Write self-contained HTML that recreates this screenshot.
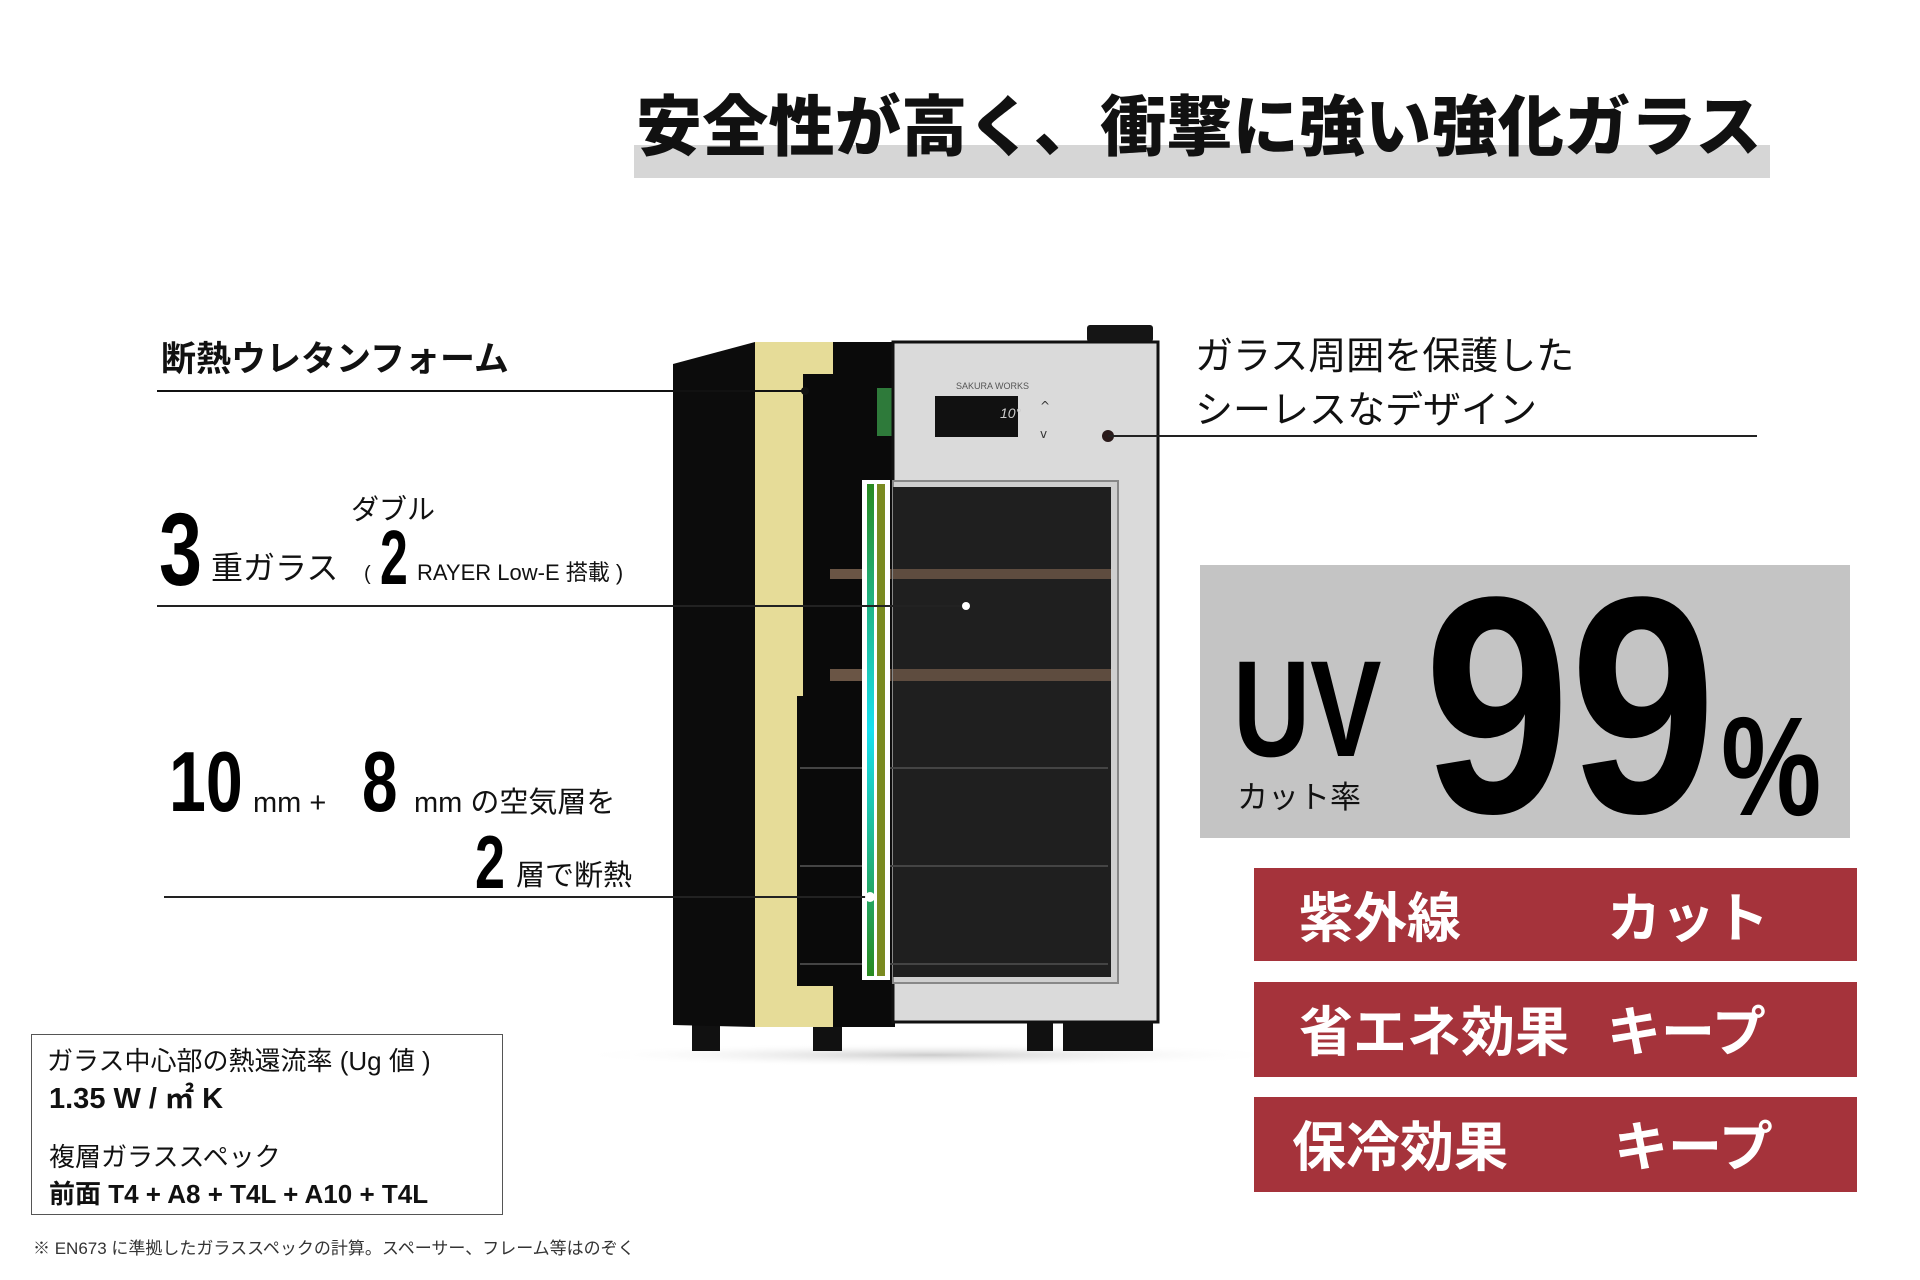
<!DOCTYPE html>
<html><head><meta charset="utf-8"><style>
body{margin:0;width:1920px;height:1280px;background:#fff;position:relative;overflow:hidden;font-family:"Liberation Sans","Noto Sans CJK JP",sans-serif;color:#111}
.a{position:absolute;white-space:nowrap;line-height:1}
.n{font-family:"Liberation Sans",sans-serif;font-weight:bold;transform-origin:0 0;color:#000}
.j{font-family:"Liberation Sans","Noto Sans CJK JP",sans-serif}
.red{position:absolute;left:1254px;width:603px;background:#a5333b;color:#fff;font-family:"Noto Sans CJK JP",sans-serif;font-weight:bold;font-size:54px}
.red span{position:absolute;top:14px;line-height:1.2}
</style></head><body>
<div class="a" style="left:634px;top:145px;width:1136px;height:33px;background:#d6d6d6"></div>
<div class="a j" style="left:636px;top:94px;font-size:66px;font-weight:900;letter-spacing:0.3px">安全性が高く、衝撃に強い強化ガラス</div>

<svg class="a" style="left:0;top:0" width="1920" height="1280">
<defs><linearGradient id="g" x1="0" y1="0" x2="0" y2="1"><stop offset="0" stop-color="#2a8a20"/><stop offset="0.5" stop-color="#18e0f0"/><stop offset="1" stop-color="#2a8a20"/></linearGradient>
<radialGradient id="sh"><stop offset="0" stop-color="#ccc"/><stop offset="1" stop-color="#fff" stop-opacity="0"/></radialGradient></defs>
<ellipse cx="930" cy="1055" rx="360" ry="12" fill="url(#sh)"/>
<rect x="692" y="1020" width="28" height="31" fill="#111"/><rect x="813" y="1020" width="29" height="31" fill="#111"/>
<rect x="1027" y="1020" width="26" height="31" fill="#111"/><rect x="1063" y="1020" width="90" height="31" fill="#111"/>
<polygon points="673,364 755,342 755,1027 673,1025" fill="#0c0c0c"/>
<rect x="755" y="342" width="140" height="685" fill="#0a0a0a"/>
<path d="M755,342 H833 V374 H803 V696 H797 V986 H833 V1027 H755 Z" fill="#e6dc98"/>
<rect x="830" y="569" width="265" height="10" fill="#6a5545"/>
<rect x="830" y="669" width="265" height="12" fill="#6a5545"/>
<rect x="877" y="388" width="20" height="48" fill="#2e7a3a"/>
<rect x="1087" y="325" width="66" height="17" rx="3" fill="#151515"/>
<rect x="893" y="342" width="265" height="680" fill="#dadada" stroke="#111" stroke-width="3"/>
<rect x="893" y="481" width="225" height="502" fill="#cfcfcf" stroke="#888" stroke-width="2"/>
<rect x="893" y="487" width="218" height="490" fill="#1f1f1f"/>
<rect x="893" y="569" width="218" height="10" fill="#6a5545" opacity="0.85"/>
<rect x="893" y="669" width="218" height="12" fill="#6a5545" opacity="0.85"/>
<line x1="800" y1="768" x2="1108" y2="768" stroke="#444" stroke-width="2"/>
<line x1="800" y1="866" x2="1108" y2="866" stroke="#444" stroke-width="2"/>
<line x1="800" y1="964" x2="1108" y2="964" stroke="#444" stroke-width="2"/>
<rect x="935" y="396" width="83" height="41" fill="#111"/>
<text x="1000" y="418" fill="#ccc" font-size="14" font-style="italic" font-family="Liberation Sans">10°</text>
<text x="956" y="389" fill="#555" font-size="9" font-family="Liberation Sans">SAKURA WORKS</text>
<text x="1040" y="410" fill="#333" font-size="12" font-family="DejaVu Sans">^</text>
<text x="1040" y="438" fill="#333" font-size="12" font-family="DejaVu Sans">v</text>
<circle cx="1108" cy="436" r="6" fill="#2a1a1a"/>
<rect x="862" y="480" width="28" height="500" fill="#fff"/>
<rect x="867" y="484" width="7" height="492" fill="url(#g)"/>
<rect x="877" y="484" width="8" height="492" fill="#7a8a20"/>
<line x1="157" y1="391" x2="805" y2="391" stroke="#111" stroke-width="2"/><circle cx="805" cy="391" r="4" fill="#111"/>
<line x1="157" y1="606" x2="966" y2="606" stroke="#222" stroke-width="2"/><circle cx="966" cy="606" r="4" fill="#fff"/>
<line x1="164" y1="897" x2="870" y2="897" stroke="#222" stroke-width="2"/><circle cx="870" cy="897" r="5" fill="#fff"/>
<line x1="1108" y1="436" x2="1757" y2="436" stroke="#222" stroke-width="2"/>
</svg>

<div class="a j" style="left:161px;top:342px;font-size:35px;font-weight:bold">断熱ウレタンフォーム</div>
<div class="a n" style="left:159px;top:498px;font-size:103px;transform:scaleX(0.75)">3</div>
<div class="a j" style="left:211px;top:552px;font-size:32px">重ガラス</div>
<div class="a j" style="left:351px;top:496px;font-size:28px">ダブル</div>
<div class="a j" style="left:364px;top:564px;font-size:20px">(</div>
<div class="a n" style="left:380px;top:520px;font-size:77px;transform:scaleX(0.65)">2</div>
<div class="a j" style="left:417px;top:562px;font-size:22px">RAYER Low-E 搭載 )</div>
<div class="a n" style="left:169px;top:740px;font-size:85px;transform:scaleX(0.78)">10</div>
<div class="a j" style="left:253px;top:789px;font-size:29px">mm +</div>
<div class="a n" style="left:362px;top:740px;font-size:85px;transform:scaleX(0.75)">8</div>
<div class="a j" style="left:414px;top:789px;font-size:29px">mm の空気層を</div>
<div class="a n" style="left:475px;top:825px;font-size:75px;transform:scaleX(0.72)">2</div>
<div class="a j" style="left:516px;top:862px;font-size:29px">層で断熱</div>

<div class="a j" style="left:1195px;top:330px;font-size:38px;line-height:54px">ガラス周囲を保護した<br>シーレスなデザイン</div>

<div class="a" style="left:1200px;top:565px;width:650px;height:273px;background:#c4c4c4"></div>
<div class="a n" style="left:1233px;top:641px;font-size:137px;transform:scaleX(0.78)">UV</div>
<div class="a j" style="left:1237px;top:782px;font-size:31px">カット率</div>
<div class="a n" style="left:1424px;top:551px;font-size:309px;transform:scaleX(0.85)">99</div>
<div class="a n" style="left:1721px;top:696px;font-size:141px;transform:scaleX(0.8)">%</div>

<div class="red" style="top:868px;height:93px"><span style="left:45px">紫外線</span><span style="left:353px">カット</span></div>
<div class="red" style="top:982px;height:95px"><span style="left:45px">省エネ効果</span><span style="left:353px">キープ</span></div>
<div class="red" style="top:1097px;height:95px"><span style="left:38px">保冷効果</span><span style="left:360px">キープ</span></div>

<div class="a" style="left:31px;top:1034px;width:470px;height:179px;border:1.5px solid #555"></div>
<div class="a j" style="left:47px;top:1048px;font-size:26px">ガラス中心部の熱還流率 (Ug 値 )</div>
<div class="a j" style="left:49px;top:1085px;font-size:29px;font-weight:bold">1.35 W / ㎡ K</div>
<div class="a j" style="left:49px;top:1144px;font-size:26px">複層ガラススペック</div>
<div class="a j" style="left:49px;top:1181px;font-size:26px;font-weight:bold">前面 T4 + A8 + T4L + A10 + T4L</div>
<div class="a j" style="left:33px;top:1240px;font-size:17px;color:#333">※ EN673 に準拠したガラススペックの計算。スペーサー、フレーム等はのぞく</div>
</body></html>
